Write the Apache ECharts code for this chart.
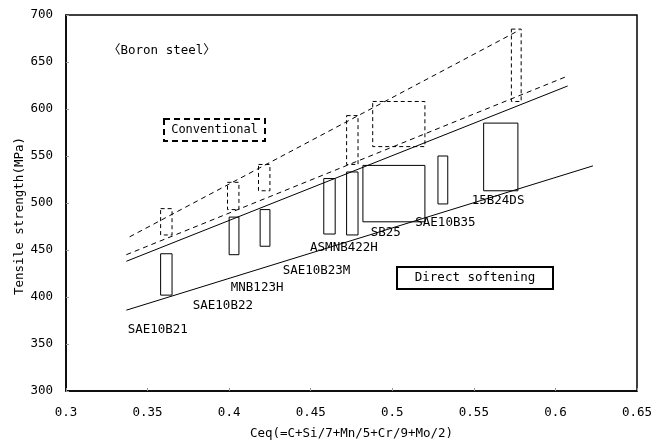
<!DOCTYPE html>
<html>
<head>
<meta charset="utf-8">
<script src="https://cdn.jsdelivr.net/npm/echarts@6/dist/echarts.min.js"></script>
<style>
html,body{margin:0;padding:0;background:#fff;}
#chart{width:668px;height:441px;}
</style>
</head>
<body>
<div id="chart"></div>
<script>
// axis ticks
var xTicks = [0.3, 0.35, 0.4, 0.45, 0.5, 0.55, 0.6, 0.65];
var yTicks = [300, 350, 400, 450, 500, 550, 600, 650, 700];

// direct softening (solid boxes): Ceq range and strength range
var solidNames = ['SAE10B21', 'SAE10B22', 'MNB123H', 'SAE10B23M', 'ASMNB422H', 'SB25', 'SAE10B35', '15B24DS'];
var solidCeqMin = [0.358, 0.400, 0.419, 0.458, 0.472, 0.482, 0.528, 0.556];
var solidCeqMax = [0.365, 0.406, 0.425, 0.465, 0.479, 0.520, 0.534, 0.577];
var solidTsMin  = [402, 445, 454, 467, 466, 480, 499, 513];
var solidTsMax  = [446, 485, 493, 526, 533, 540, 550, 585];

// conventional (dashed boxes)
var dashCeqMin = [0.358, 0.399, 0.418, 0.472, 0.488, 0.573];
var dashCeqMax = [0.365, 0.406, 0.425, 0.479, 0.520, 0.579];
var dashTsMin  = [466, 493, 513, 541, 560, 608];
var dashTsMax  = [494, 522, 541, 593, 608, 685];

// band lines [x0, x1], [y0, y1]
var convUpperX = [0.339, 0.578], convUpperY = [464, 684];
var convLowerX = [0.337, 0.606], convLowerY = [445, 634];
var directUpperX = [0.337, 0.6075], directUpperY = [438, 624.5];
var directLowerX = [0.337, 0.623], directLowerY = [386, 539.5];

// grade label anchors (left edge, middle)
var labelX = [0.3378, 0.3777, 0.4010, 0.4328, 0.4496, 0.4868, 0.5141, 0.5487];
var labelY = [365.6, 391.2, 410.3, 428, 452.9, 468.8, 479, 502.1];

var FONT = '"DejaVu Sans Mono", "Liberation Mono", "Noto Sans CJK JP", monospace';

function boxData(x0, x1, y0, y1) {
	var out = [];
	for (var i = 0; i < x0.length; i++) out.push([x0[i], x1[i], y0[i], y1[i]]);
	return out;
}
function lineData(xs, ys) {
	return [[xs[0], ys[0]], [xs[1], ys[1]]];
}
function boxSeries(data, dashed) {
	return {
		type: 'custom',
		data: data,
		encode: {x: [0, 1], y: [2, 3]},
		renderItem: function (params, api) {
			var p0 = api.coord([api.value(0), api.value(3)]);
			var p1 = api.coord([api.value(1), api.value(2)]);
			return {
				type: 'rect',
				shape: {x: p0[0], y: p0[1], width: p1[0] - p0[0], height: p1[1] - p0[1]},
				style: {fill: 'none', stroke: '#000', lineWidth: 1, lineDash: dashed ? [4, 3] : null}
			};
		},
		silent: true
	};
}
function lineSeries(data, dashed) {
	return {
		type: 'line',
		data: data,
		symbol: 'none',
		silent: true,
		lineStyle: {color: '#000', width: 1, type: dashed ? [5, 4] : 'solid'}
	};
}

var labelData = [];
for (var i = 0; i < solidNames.length; i++) labelData.push([labelX[i], labelY[i], solidNames[i]]);

var chart = echarts.init(document.getElementById('chart'));
var option = {
	animation: false,
	grid: {left: 66, right: 31, top: 15, bottom: 50, show: true, borderColor: '#000', borderWidth: 1.5,
		containLabel: false, outerBoundsMode: 'none'},
	xAxis: {
		type: 'value', min: xTicks[0], max: xTicks[xTicks.length - 1], interval: 0.05,
		name: 'Ceq(=C+Si/7+Mn/5+Cr/9+Mo/2)', nameLocation: 'middle', nameGap: 36,
		nameTextStyle: {fontFamily: FONT, fontSize: 12.5, color: '#000'},
		axisLine: {lineStyle: {color: '#000', width: 1.5}},
		axisTick: {inside: true, length: 3, lineStyle: {color: '#999'}},
		axisLabel: {fontFamily: FONT, fontSize: 12.5, color: '#000', margin: 15,
			formatter: function (v) { return String(Math.round(v * 100) / 100); }},
		splitLine: {show: false}
	},
	yAxis: {
		type: 'value', min: yTicks[0], max: yTicks[yTicks.length - 1], interval: 50,
		axisLine: {show: true, lineStyle: {color: '#000', width: 1.5}},
		axisTick: {show: true, inside: true, length: 3, lineStyle: {color: '#999'}},
		axisLabel: {fontFamily: FONT, fontSize: 12.5, color: '#000', margin: 13},
		splitLine: {show: false}
	},
	series: [
		boxSeries(boxData(solidCeqMin, solidCeqMax, solidTsMin, solidTsMax), false),
		boxSeries(boxData(dashCeqMin, dashCeqMax, dashTsMin, dashTsMax), true),
		lineSeries(lineData(convUpperX, convUpperY), true),
		lineSeries(lineData(convLowerX, convLowerY), true),
		lineSeries(lineData(directUpperX, directUpperY), false),
		lineSeries(lineData(directLowerX, directLowerY), false),
		{
			type: 'custom',
			data: labelData,
			encode: {x: 0, y: 1},
			silent: true,
			renderItem: function (params, api) {
				var p = api.coord([api.value(0), api.value(1)]);
				return {
					type: 'text',
					x: p[0], y: p[1],
					style: {text: labelData[params.dataIndex][2], fill: '#000', font: '12.5px ' + FONT, align: 'left', verticalAlign: 'middle'}
				};
			}
		}
	],
	graphic: [
		{type: 'text', x: 20, y: 216, rotation: Math.PI / 2, style: {text: 'Tensile strength(MPa)', font: '12.5px ' + FONT, fill: '#000', align: 'center', verticalAlign: 'middle'}},
		{type: 'text', x: 108, y: 51, style: {text: '〈Boron steel〉', font: '12.5px ' + FONT, fill: '#000', align: 'left', verticalAlign: 'middle'}},
		{type: 'rect', shape: {x: 164, y: 119, width: 101, height: 22}, style: {fill: 'none', stroke: '#000', lineWidth: 2, lineDash: [6, 4]}},
		{type: 'text', x: 214.5, y: 130, style: {text: 'Conventional', font: '12px ' + FONT, fill: '#000', align: 'center', verticalAlign: 'middle'}},
		{type: 'rect', shape: {x: 397, y: 267, width: 156, height: 22}, style: {fill: 'none', stroke: '#000', lineWidth: 2}},
		{type: 'text', x: 475, y: 278, style: {text: 'Direct softening', font: '12.5px ' + FONT, fill: '#000', align: 'center', verticalAlign: 'middle'}}
	]
};
chart.setOption(option);
</script>
</body>
</html>
